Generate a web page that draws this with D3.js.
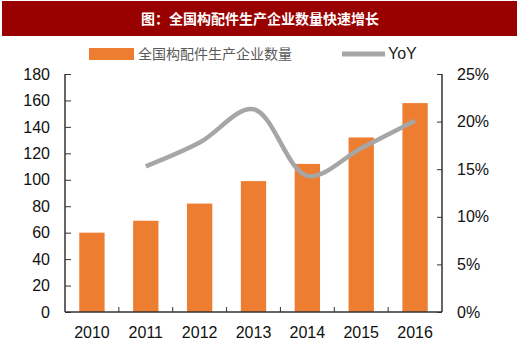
<!DOCTYPE html>
<html><head><meta charset="utf-8">
<script src="https://cdn.jsdelivr.net/npm/d3@7"></script>
<style>body{margin:0;background:#fff;}svg{display:block;}</style>
</head><body>
<svg id="c" width="520" height="357"></svg>
<script>
const title = "图：全国构配件生产企业数量快速增长";
const years = ["2010","2011","2012","2013","2014","2015","2016"];
const counts = [60, 69, 82, 99, 112, 132, 158];
const yoyYears = ["2011","2012","2013","2014","2015","2016"];
const yoy = [15.3, 17.8, 21.3, 14.3, 17.2, 20.1];
const leftTicks = [0,20,40,60,80,100,120,140,160,180];
const rightTicks = [0,5,10,15,20,25];
const barName = "全国构配件生产企业数量";
const lineName = "YoY";

const svg = d3.select("#c");
const font = "Arial, 'Liberation Sans', sans-serif";
const cjk = "'Noto Sans CJK SC', sans-serif";

svg.append("rect").attr("x",2).attr("y",1).attr("width",515).attr("height",35).attr("fill","#990000");
svg.append("text").attr("x",260).attr("y",24).attr("text-anchor","middle")
  .attr("fill","#fff").attr("font-family",cjk).attr("font-weight","bold").attr("font-size",14).text(title);

const L=65, R=442, T=74, B=312;
const x = d3.scaleBand().domain(years).range([L,R]).paddingInner(0.53).paddingOuter(0.265);
const xc = d3.scaleBand().domain(years).range([L,R]);
const y = d3.scaleLinear().domain([0,180]).range([B,T]);
const y2 = d3.scaleLinear().domain([0,25]).range([B,T]);

svg.append("g").selectAll("rect").data(counts).join("rect")
  .attr("x",(d,i)=>x(years[i])).attr("width",x.bandwidth())
  .attr("y",d=>y(d)).attr("height",d=>B-y(d)).attr("fill","#ed7d31");

const axCol="#333";
const gl = svg.append("g").attr("transform",`translate(${L},0)`)
  .call(d3.axisLeft(y).tickValues(leftTicks).tickSize(-6).tickPadding(15));
const gr = svg.append("g").attr("transform",`translate(${R},0)`)
  .call(d3.axisRight(y2).tickValues(rightTicks).tickSize(-5).tickPadding(15).tickFormat(d=>d+"%"));
const gb = svg.append("g").attr("transform",`translate(0,${B})`)
  .call(d3.axisBottom(xc).tickSize(0).tickPadding(15));
gb.selectAll(".tick line").remove();
gb.append("g").selectAll("line").data(years.slice(1)).join("line")
  .attr("x1",d=>xc(d)).attr("x2",d=>xc(d)).attr("y1",0).attr("y2",-5).attr("stroke",axCol);
[gl,gr,gb].forEach(g=>{
  g.select(".domain").attr("stroke",axCol).attr("stroke-width",1.5);
  g.selectAll(".tick line").attr("stroke",axCol);
  g.selectAll("text").attr("font-family",font).attr("font-size",16).attr("fill","#111");
});
gl.select(".domain").attr("d",`M0,${T}V${B}`);
gr.select(".domain").attr("d",`M0,${T}V${B}`);
gb.select(".domain").attr("d",`M${L},0H${R}`);

const line = d3.line().x((d,i)=>xc(yoyYears[i])+xc.bandwidth()/2).y(d=>y2(d)).curve(d3.curveCatmullRom);
svg.append("path").datum(yoy).attr("d",line).attr("fill","none").attr("stroke","#a6a6a6").attr("stroke-width",4.5);

svg.append("rect").attr("x",89).attr("y",48).attr("width",45).attr("height",12).attr("fill","#ed7d31");
svg.append("text").attr("x",138).attr("y",59).attr("font-family",cjk).attr("font-size",14).attr("fill","#595959").text(barName);
svg.append("line").attr("x1",342).attr("x2",385).attr("y1",54).attr("y2",54).attr("stroke","#a6a6a6").attr("stroke-width",5);
svg.append("text").attr("x",388).attr("y",59).attr("font-family",font).attr("font-size",16).attr("fill","#222").text(lineName);
</script>
</body></html>
